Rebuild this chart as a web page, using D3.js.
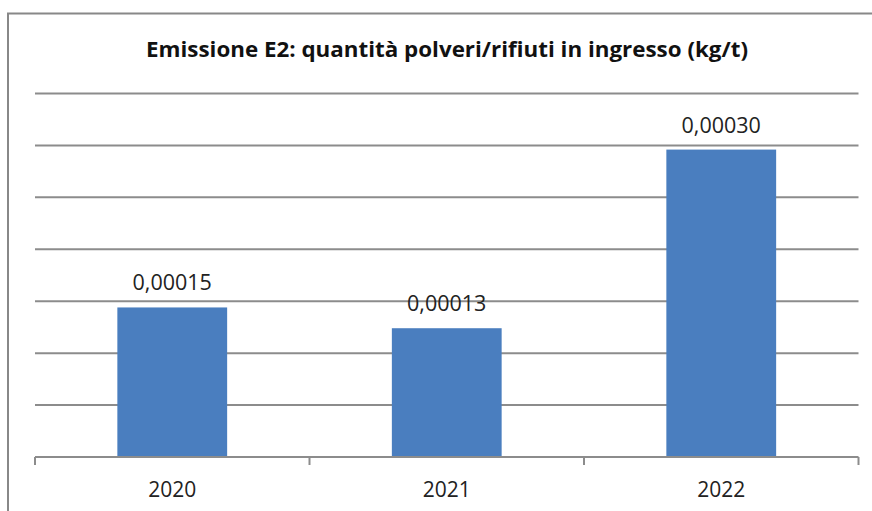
<!DOCTYPE html>
<html>
<head>
<meta charset="utf-8">
<script src="https://cdn.jsdelivr.net/npm/d3@7/dist/d3.min.js"></script>
<style>
  html, body { margin: 0; padding: 0; background: #fff; }
  svg { display: block; }
</style>
</head>
<body>
<svg id="chart" width="872" height="511"></svg>
<script>
const title = "Emissione E2: quantità polveri/rifiuti in ingresso (kg/t)";
const categories = ["2020", "2021", "2022"];
const values = [0.000144, 0.000124, 0.000296];
const valueLabels = ["0,00015", "0,00013", "0,00030"];
const gridTicks = [0.00005, 0.0001, 0.00015, 0.0002, 0.00025, 0.0003, 0.00035];

const svg = d3.select("#chart");
const plotL = 35, plotR = 858.5, plotT = 93.5, plotB = 457;

// outer border
svg.append("rect")
  .attr("x", 8).attr("y", 13.5)
  .attr("width", 900).attr("height", 600)
  .attr("fill", "none").attr("stroke", "#888").attr("stroke-width", 2);

const x = d3.scaleBand().domain(categories).range([plotL, plotR]).paddingInner(0.6).paddingOuter(0.3);
const y = d3.scaleLinear().domain([0, 0.00035]).range([plotB, plotT]);

// gridlines
svg.append("g").selectAll("line").data(gridTicks).join("line")
  .attr("x1", plotL).attr("x2", plotR)
  .attr("y1", d => y(d)).attr("y2", d => y(d))
  .attr("stroke", "#8c8c8c").attr("stroke-width", 2);

// bars
svg.append("g").selectAll("rect").data(values).join("rect")
  .attr("x", (d, i) => x(categories[i]))
  .attr("width", x.bandwidth())
  .attr("y", d => y(d))
  .attr("height", d => plotB - y(d))
  .attr("fill", "#4a7ebf");

// x axis
const gx = svg.append("g").attr("transform", `translate(0,${plotB})`);
gx.append("line").attr("x1", plotL).attr("x2", plotR).attr("y1", 0).attr("y2", 0)
  .attr("stroke", "#8c8c8c").attr("stroke-width", 2);
const boundaries = [0, 1, 2, 3].map(i => plotL + i * (plotR - plotL) / 3);
gx.selectAll("line.tk").data(boundaries).join("line").attr("class", "tk")
  .attr("x1", d => d).attr("x2", d => d).attr("y1", 0).attr("y2", 8)
  .attr("stroke", "#8c8c8c").attr("stroke-width", 2);
gx.selectAll("text.cat").data(categories).join("text").attr("class", "cat")
  .attr("x", d => x(d) + x.bandwidth() / 2)
  .attr("y", 40)
  .attr("text-anchor", "middle")
  .attr("font-family", "'Open Sans', sans-serif")
  .attr("font-size", 21)
  .attr("fill", "#222")
  .text(d => d);

// value labels
svg.append("g").selectAll("text").data(values).join("text")
  .attr("x", (d, i) => x(categories[i]) + x.bandwidth() / 2)
  .attr("y", d => y(d) - 17)
  .attr("text-anchor", "middle")
  .attr("font-family", "'Open Sans', sans-serif")
  .attr("font-size", 21.5)
  .attr("fill", "#222")
  .text((d, i) => valueLabels[i]);

// title
svg.append("text")
  .attr("x", 447).attr("y", 57)
  .attr("text-anchor", "middle")
  .attr("font-family", "'Open Sans', sans-serif")
  .attr("font-weight", "bold")
  .attr("font-size", 21.5)
  .attr("fill", "#111")
  .attr("textLength", 602)
  .attr("lengthAdjust", "spacingAndGlyphs")
  .text(title);
</script>
</body>
</html>
